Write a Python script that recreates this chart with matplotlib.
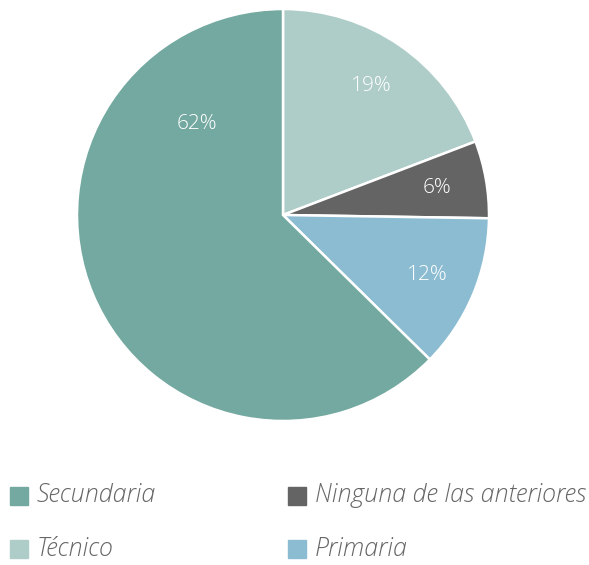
import matplotlib
matplotlib.use('Agg')
from matplotlib import pyplot as plt
from matplotlib.patches import Rectangle

# Данные (порядок секторов по часовой стрелке от верха)
categories = ['Técnico', 'Ninguna de las anteriores', 'Primaria', 'Secundaria']
values = [19, 6, 12, 62]
colors = ['#AFCDC8', '#646464', '#8CBCD2', '#73A9A0']

# Порядок легенды
legend_order = ['Secundaria', 'Técnico', 'Ninguna de las anteriores', 'Primaria']

total = sum(values)
font = 'Open Sans'

fig = plt.figure(figsize=(5.89, 5.65), dpi=100)
W, H = 589, 565
cx, cy, r = 283, 215, 206
ax = fig.add_axes([(cx - r) / W, (H - cy - r) / H, 2 * r / W, 2 * r / H])

wedges, texts, autotexts = ax.pie(
    values, colors=colors, startangle=90, counterclock=False,
    autopct=lambda p: f'{p * total / 100:.0f}%', pctdistance=0.76,
    wedgeprops=dict(edgecolor='white', linewidth=1.8),
    textprops=dict(color='white', fontsize=15, family=font, fontweight='light'))
ax.set_xlim(-1, 1)
ax.set_ylim(-1, 1)
ax.set_aspect('equal')

# подпись большого сектора стоит выше центра сектора
autotexts[3].set_position((-0.42, 0.44))

# Легенда вручную: два столбца
cmap = dict(zip(categories, colors))
col_x = [10, 288]
row_y = [496, 549]
sq = 18
for i, name in enumerate(legend_order):
    x = col_x[i // 2]
    y = row_y[i % 2]
    fig.patches.append(Rectangle((x / W, (H - y - sq / 2) / H), sq / W, sq / H,
                                 transform=fig.transFigure, color=cmap[name]))
    fig.text((x + 27) / W, (H - y) / H, name, ha='left', va='center',
             fontsize=18, family=font, style='italic', fontweight='light',
             color='#666666')

fig.savefig('out.png', dpi=100)
